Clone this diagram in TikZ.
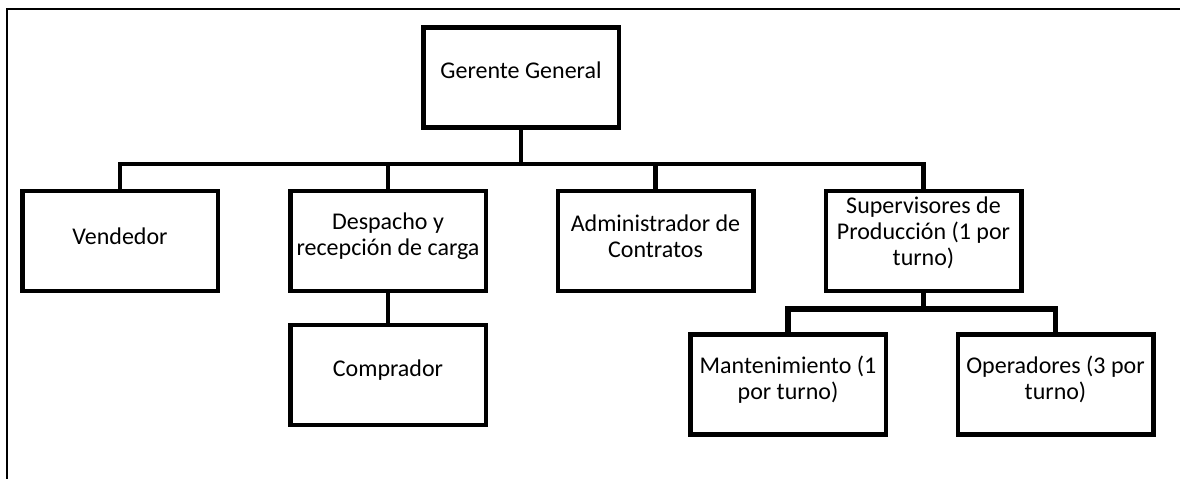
\documentclass[tikz,border=0pt]{standalone}
\usepackage{fontspec}
\setmainfont{Carlito}
\begin{document}
\begin{tikzpicture}[x=1pt,y=-1pt,
  box/.style={draw=black,line width=4.5pt,minimum width=195.5pt,minimum height=100pt,inner sep=0pt},
  txt/.style={align=center,inner sep=0pt,yshift=5pt,font=\fontsize{24}{26}\selectfont},
  conn/.style={draw=black,line width=4.2pt,line join=miter},
  frameline/.style={draw=black,line width=2pt}]
\useasboundingbox (0,0) rectangle (1180,479);
% frame
\coordinate (fTR) at (1180,9);
\coordinate (fTL) at (7,9);
\coordinate (fBL) at (7,479);
\draw[frameline] (fTR) -- (fTL) -- (fBL);
% boxes
\node[box] (ger) at (521,77.5) {};
\node[box] (ven) at (120,241) {};
\node[box] (des) at (388,241) {};
\node[box] (adm) at (655.5,241) {};
\node[box] (sup) at (923.5,241) {};
\node[box] (com) at (388,375) {};
\node[box] (man) at (788,384.5) {};
\node[box] (ope) at (1055.5,384.5) {};
% texts
\node[txt,yshift=2pt] (gerT) at (ger.center) {Gerente General};
\node[txt] (venT) at (ven.center) {Vendedor};
\node[txt] (desT) at (des.center) {Despacho y\\recepción de carga};
\node[txt] (admT) at (adm.center) {Administrador de\\Contratos};
\node[txt,yshift=3pt] (supT) at (sup.center) {Supervisores de\\Producción (1 por\\turno)};
\node[txt] (comT) at (com.center) {Comprador};
\node[txt] (manT) at (man.center) {Mantenimiento (1\\por turno)};
\node[txt] (opeT) at (ope.center) {Operadores (3 por\\turno)};
% connectors
\coordinate (bus) at (0,164);
\coordinate (sbus) at (0,309);
\draw[conn] (ven.north) |- (sup.north |- bus) -- (sup.north);
\draw[conn] (ger.south) -- (ger.south |- bus);
\draw[conn] (des.north) -- (des.north |- bus);
\draw[conn] (adm.north) -- (adm.north |- bus);
\draw[conn] (des.south) -- (com.north);
\draw[conn] (sup.south) -- (sup.south |- sbus);
\draw[conn,line width=5.5pt] (man.north) |- (ope.north |- sbus) -- (ope.north);
\end{tikzpicture}
\end{document}
